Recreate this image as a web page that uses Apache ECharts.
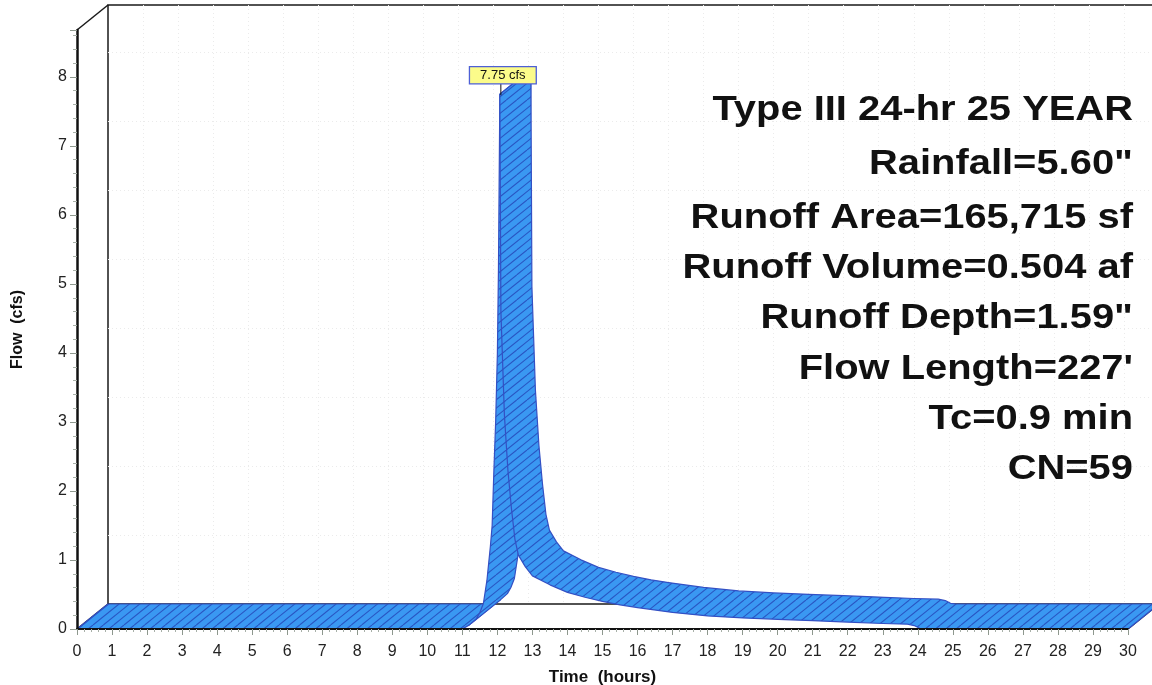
<!DOCTYPE html>
<html>
<head>
<meta charset="utf-8">
<script src="https://cdn.jsdelivr.net/npm/echarts@6/dist/echarts.min.js"></script>
<style>
html,body{margin:0;padding:0;background:#fff;}
#chart{width:1152px;height:685px;}
</style>
</head>
<body>
<div id="chart"></div>
<script>
// ---------------- data ----------------
const timeHours = [0, 11.0, 11.2, 11.4, 11.5, 11.6, 11.7, 11.8, 11.85, 11.9, 11.95, 12.0, 12.03, 12.07, 12.1, 12.2, 12.3, 12.4, 12.5, 12.6, 12.8, 13.0, 13.5, 14.0, 14.5, 15.0, 15.5, 16.0, 17.0, 18.0, 19.0, 20.0, 21.0, 22.0, 23.0, 23.7, 23.9, 24.05, 24.2, 30];
const flowCfs   = [0, 0,    0.06, 0.15, 0.24, 0.37, 0.7,  1.2,  1.5,  2.3,  3.0,  4.0,  5.2,   7.75,  4.6,  3.1,  2.3,  1.75, 1.3,  1.07, 0.9,  0.77, 0.64, 0.53, 0.46, 0.40, 0.35, 0.31, 0.24, 0.19, 0.16, 0.14, 0.12, 0.10, 0.08, 0.07, 0.05, 0.01,  0,    0];
const xTicks = [0,1,2,3,4,5,6,7,8,9,10,11,12,13,14,15,16,17,18,19,20,21,22,23,24,25,26,27,28,29,30];
const yTicks = [0,1,2,3,4,5,6,7,8];
const yAxisMax = 8.68;
const xAxisName = 'Time  (hours)';
const yAxisName = 'Flow  (cfs)';
const peakUnit = 'cfs';
const infoLines = [
  'Type III 24-hr 25 YEAR',
  'Rainfall=5.60"',
  'Runoff Area=165,715 sf',
  'Runoff Volume=0.504 af',
  'Runoff Depth=1.59"',
  "Flow Length=227'",
  'Tc=0.9 min',
  'CN=59'
];

// ---------------- layout / style ----------------
const DX = 31, DY = -25;              // depth offset of the 3D ribbon (px)
const FRONT = {left: 77, top: 30, width: 1051, height: 599};
const RIBBON_FILL = '#3a98f2';
const HATCH = '#2955c2';
const OUTLINE = '#3350c4';
const FONT = '"Liberation Sans", Arial, sans-serif';
const infoY = [110, 164, 218, 268, 318, 369, 419, 469];

function makeHatch() {
  const W = 31, H = 25;
  const c = document.createElement('canvas');
  c.width = W; c.height = H;
  const g = c.getContext('2d');
  g.fillStyle = RIBBON_FILL;
  g.fillRect(0, 0, W, H);
  g.strokeStyle = HATCH;
  g.lineWidth = 1.1;
  for (let k = 0; k < 3; k++) {
    const x0 = k * W / 3;
    for (const m of [-1, 0, 1]) {
      g.beginPath();
      g.moveTo(x0 + m * W, H);
      g.lineTo(x0 + (m + 1) * W, 0);
      g.stroke();
    }
  }
  return c;
}
const hatchPattern = {image: makeHatch(), repeat: 'repeat'};

const points = timeHours.map((t, i) => [t, flowCfs[i]]);
let peakIdx = 0;
flowCfs.forEach((v, i) => { if (v > flowCfs[peakIdx]) peakIdx = i; });

function renderFrame(params, api) {
  if (params.dataIndex !== 0) return;
  const xMin = xTicks[0], xMax = xTicks[xTicks.length - 1];
  const corners = [api.coord([xMin, yAxisMax]), api.coord([xMin, 0]), api.coord([xMax, 0])];
  return {
    type: 'group',
    children: corners.map(p => ({
      type: 'line',
      shape: {x1: p[0], y1: p[1], x2: p[0] + DX, y2: p[1] + DY},
      style: {stroke: '#1a1a1a', lineWidth: 1.5}
    }))
  };
}

function renderRibbon(params, api) {
  if (params.dataIndex !== 0) return;
  const front = points.map(p => api.coord(p));
  const back = front.map(p => [p[0] + DX, p[1] + DY]);
  const children = [];
  function poly(a, b) {
    const pts = front.slice(a, b + 1).concat(back.slice(a, b + 1).reverse());
    return {
      type: 'polygon',
      shape: {points: pts},
      style: {fill: hatchPattern, stroke: OUTLINE, lineWidth: 1.2, lineJoin: 'round'}
    };
  }
  let start = 0, sign = null;
  for (let i = 0; i < front.length - 1; i++) {
    const dx = front[i + 1][0] - front[i][0];
    const dy = front[i + 1][1] - front[i][1];
    const c = dx * DY - dy * DX;
    const s = c >= 0 ? 1 : -1;
    if (sign === null) sign = s;
    else if (s !== sign) {
      children.push(poly(start, i));
      start = i; sign = s;
    }
  }
  children.push(poly(start, front.length - 1));

  // peak label
  const pk = front[peakIdx];
  children.push({
    type: 'line',
    shape: {x1: pk[0] + 1, y1: pk[1] + 1, x2: pk[0] + 1, y2: pk[1] - 11},
    style: {stroke: '#111', lineWidth: 1}
  });
  children.push({
    type: 'text',
    x: pk[0] + 3,
    y: pk[1] - 11,
    style: {
      text: flowCfs[peakIdx].toFixed(2) + ' ' + peakUnit,
      font: '13px ' + FONT,
      fill: '#111',
      align: 'center',
      verticalAlign: 'bottom',
      backgroundColor: '#fbfb8a',
      borderColor: '#4d5fd6',
      borderWidth: 1.3,
      padding: [2, 10, 1, 10]
    }
  });
  return {type: 'group', children: children};
}

const chart = echarts.init(document.getElementById('chart'), null, {renderer: 'canvas'});

const backSplit = {show: true, showMinLine: false, showMaxLine: false,
                   lineStyle: {color: '#ebebeb', type: [1, 3], width: 1}};

const option = {
  animation: false,
  backgroundColor: '#ffffff',
  grid: [
    Object.assign({show: false, containLabel: false, outerBoundsMode: 'none'}, FRONT),
    {left: FRONT.left + DX, top: FRONT.top + DY, width: FRONT.width, height: FRONT.height,
     containLabel: false, outerBoundsMode: 'none',
     show: true, borderColor: '#1a1a1a', borderWidth: 1.5, backgroundColor: 'transparent'}
  ],
  xAxis: [
    {
      gridIndex: 0, type: 'value', min: xTicks[0], max: xTicks[xTicks.length - 1], interval: 1,
      z: 5,
      name: xAxisName, nameLocation: 'middle', nameGap: 40,
      nameTextStyle: {fontFamily: FONT, fontWeight: 'bold', fontSize: 17, color: '#111'},
      axisLine: {lineStyle: {color: '#111', width: 2}},
      axisTick: {length: 6, lineStyle: {color: '#8e988e', width: 1}},
      minorTick: {show: true, splitNumber: 5, length: 3, lineStyle: {color: '#a8b0a8'}},
      axisLabel: {fontFamily: FONT, fontSize: 16, color: '#222', margin: 15,
                  formatter: v => xTicks.indexOf(v) >= 0 ? String(v) : ''},
      splitLine: {show: false}
    },
    {
      gridIndex: 1, type: 'value', min: xTicks[0], max: xTicks[xTicks.length - 1], interval: 1,
      axisLine: {show: false}, axisTick: {show: false}, axisLabel: {show: false},
      splitLine: backSplit
    }
  ],
  yAxis: [
    {
      gridIndex: 0, type: 'value', min: yTicks[0], max: yAxisMax, interval: 1,
      z: 5,
      name: yAxisName, nameLocation: 'middle', nameGap: 51, nameRotate: 90,
      nameTextStyle: {fontFamily: FONT, fontWeight: 'bold', fontSize: 16, color: '#111'},
      axisLine: {lineStyle: {color: '#111', width: 2.5}},
      axisTick: {length: 7, lineStyle: {color: '#8e988e', width: 1}},
      minorTick: {show: true, splitNumber: 5, length: 4, lineStyle: {color: '#a8b0a8'}},
      axisLabel: {fontFamily: FONT, fontSize: 16, color: '#222', margin: 10,
                  formatter: v => yTicks.indexOf(v) >= 0 ? String(v) : ''},
      splitLine: {show: false}
    },
    {
      gridIndex: 1, type: 'value', min: yTicks[0], max: yAxisMax, interval: 1,
      axisLine: {show: false}, axisTick: {show: false}, axisLabel: {show: false},
      splitLine: backSplit
    }
  ],
  graphic: infoLines.map((t, i) => ({
    type: 'text',
    x: 1133, y: infoY[i],
    scaleX: 1.14,
    z: 10,
    style: {
      text: t,
      font: 'bold 35px ' + FONT,
      fill: '#111',
      align: 'right',
      verticalAlign: 'middle'
    }
  })),
  series: [
    {
      type: 'custom', name: 'frame', xAxisIndex: 0, yAxisIndex: 0, z: 1,
      silent: true,
      data: [[xTicks[0], 0]],
      encode: {x: 0, y: 1},
      renderItem: renderFrame
    },
    {
      type: 'custom', name: 'Runoff', xAxisIndex: 0, yAxisIndex: 0, z: 3,
      silent: true,
      data: points,
      encode: {x: 0, y: 1},
      renderItem: renderRibbon
    }
  ]
};
chart.setOption(option);
</script>
</body>
</html>
